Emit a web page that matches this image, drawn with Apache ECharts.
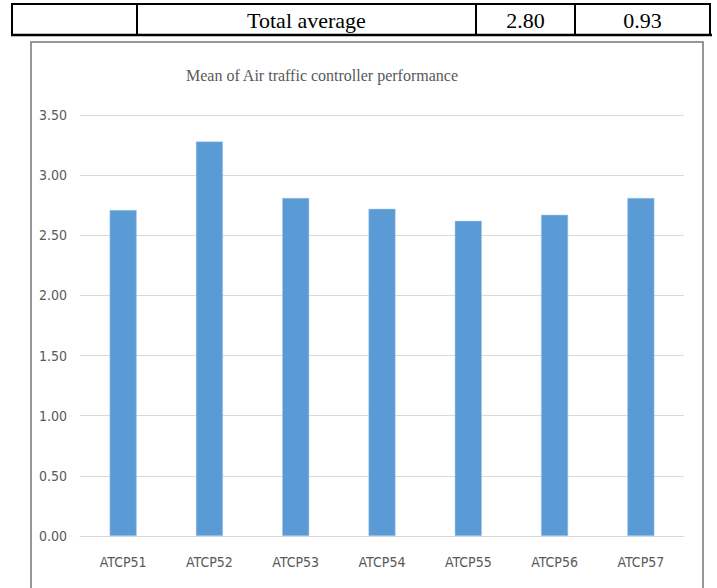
<!DOCTYPE html>
<html>
<head>
<meta charset="utf-8">
<script src="https://cdn.jsdelivr.net/npm/echarts@6/dist/echarts.min.js"></script>
<style>
    html, body { margin: 0; padding: 0; background: #fff; }
    #chart { width: 717px; height: 588px; }
</style>
</head>
<body>
<div id="chart"></div>
<script>
document.addEventListener('DOMContentLoaded', () => {
    // Data
    const categories = ['ATCP51', 'ATCP52', 'ATCP53', 'ATCP54', 'ATCP55', 'ATCP56', 'ATCP57'];
    const meanValues = [2.71, 3.28, 2.81, 2.72, 2.62, 2.67, 2.81];
    const tableRow = ['', 'Total average', '2.80', '0.93'];
    const chartTitle = 'Mean of Air traffic controller performance';

    const chart = echarts.init(document.getElementById('chart'), null, { renderer: 'svg' });

    const serif = 'Liberation Serif';
    const narrow = 'Liberation Sans Narrow, DejaVu Sans Condensed, Roboto, sans-serif';

    // table row on top of the chart
    const colEdges = [12, 137, 476, 575, 710];
    const tableTop = 4;
    const tableBottom = 35;
    const tableGraphics = [];
    colEdges.forEach(x => {
        tableGraphics.push({
            type: 'line',
            shape: { x1: x, y1: tableTop, x2: x, y2: tableBottom },
            style: { stroke: '#000', lineWidth: 2 }
        });
    });
    tableGraphics.push({
        type: 'line',
        shape: { x1: colEdges[0] - 1, y1: tableTop, x2: colEdges[4] + 1, y2: tableTop },
        style: { stroke: '#000', lineWidth: 2 }
    });
    tableGraphics.push({
        type: 'line',
        shape: { x1: colEdges[0] - 1, y1: tableBottom, x2: colEdges[4] + 2, y2: tableBottom },
        style: { stroke: '#000', lineWidth: 2.5 }
    });
    tableRow.forEach((txt, i) => {
        if (!txt) return;
        tableGraphics.push({
            type: 'text',
            x: (colEdges[i] + colEdges[i + 1]) / 2,
            y: 20,
            style: {
                text: txt,
                fill: '#000',
                fontFamily: serif,
                fontSize: 22,
                align: 'center',
                verticalAlign: 'middle'
            }
        });
    });

    const option = {
        animation: false,
        backgroundColor: '#fff',
        graphic: [
            ...tableGraphics,
            // chart frame
            {
                type: 'rect',
                shape: { x: 31, y: 42, width: 672, height: 560 },
                style: { fill: 'none', stroke: '#767676', lineWidth: 1.5 }
            },
            {
                type: 'text',
                x: 322,
                y: 75,
                style: {
                    text: chartTitle,
                    fill: '#595959',
                    fontFamily: serif,
                    fontSize: 16,
                    align: 'center',
                    verticalAlign: 'middle'
                }
            }
        ],
        grid: {
            left: 80,
            right: 33,
            top: 115,
            bottom: 52
        },
        xAxis: {
            type: 'category',
            data: categories,
            axisTick: { show: false },
            axisLine: { lineStyle: { color: '#d9d9d9', width: 1 } },
            axisLabel: {
                color: '#595959',
                fontFamily: narrow,
                fontSize: 14,
                margin: 19
            }
        },
        yAxis: {
            type: 'value',
            min: 0,
            max: 3.5,
            interval: 0.5,
            axisLine: { show: false },
            axisTick: { show: false },
            splitLine: { lineStyle: { color: '#d9d9d9', width: 1 } },
            axisLabel: {
                color: '#595959',
                fontFamily: narrow,
                fontSize: 14,
                margin: 13,
                formatter: v => v.toFixed(2)
            }
        },
        series: [{
            name: 'Mean',
            type: 'bar',
            data: meanValues,
            barWidth: 27,
            itemStyle: {
                color: '#5b9bd5',
                borderColor: '#a9c9ea',
                borderWidth: 0.5
            }
        }]
    };

    chart.setOption(option);
});
</script>
</body>
</html>
